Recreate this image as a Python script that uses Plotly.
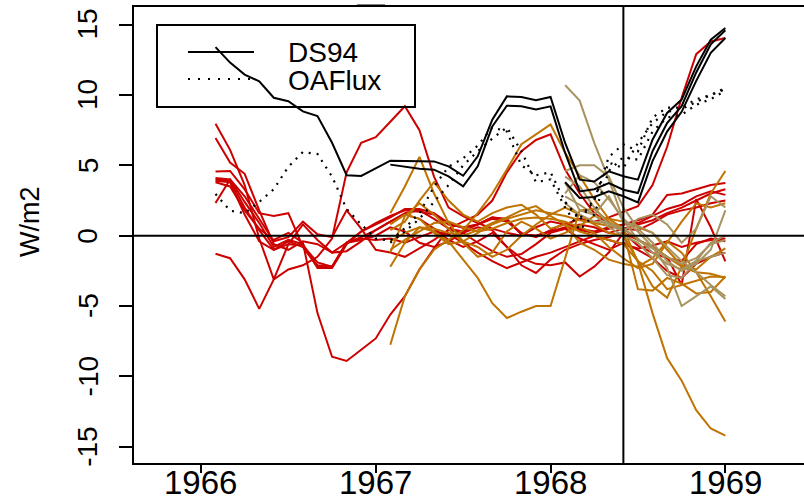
import plotly.graph_objects as go

# ---------------- data (monthly anomalies, W/m2) ----------------
# month index m: time = 1966 + m/12
red_start = 1      # Feb 1966 .. Jan 1969
orange_start = 13  # Feb 1967 .. Jan 1969
tan_start = 25     # Feb 1968 .. Jan 1969

ds94_a = [13.4, 12.3, 11.45, 10.97, 9.8, 9.55, 8.83, 8.5, 6.6, 4.3, 4.25, 4.8,
          5.33, 5.3, 5.3, 5.28, 4.93, 4.26, 5.64, 8.24, 9.9, 9.86, 9.62, 9.86,
          6.59, 3.98, 3.85, 4.57, 4.22, 3.98, 6.82, 8.72, 9.67, 12.03, 13.93, 14.76]
ds94_b = [5.05, 4.9, 4.75, 4.69, 4.22, 3.5, 4.93, 7.77, 9.24, 9.19, 8.96, 9.19,
          5.88, 3.15, 3.3, 3.74, 3.27, 3.03, 6.0, 8.0, 9.2, 11.6, 13.6, 14.6]
ds94_c = [3.8, 2.68, 2.75, 3.15, 2.8, 2.37, 5.3, 7.4, 8.8, 11.0, 13.0, 14.05]

oaflux_a = [2.96, 1.78, 1.6, 2.4, 3.3, 4.9, 5.95, 5.8, 4.2, 1.9, 0.8, -0.2,
            -0.35, 0.54, 1.6, 3.5, 4.9, 5.5, 6.4, 7.7, 7.4, 5.0, 4.3, 4.5,
            2.4, 1.1, 2.5, 5.6, 6.5, 6.0, 8.4, 9.1, 9.1, 9.7, 10.0, 10.5]
oaflux_b = [-0.5, 0.3, 1.2, 2.4, 3.6, 5.0, 6.0, 6.9, 7.7, 6.0, 3.8, 4.0,
            2.0, 0.4, 1.5, 4.6, 5.6, 5.4, 7.4, 8.4, 8.6, 9.3, 9.7, 10.3]
oaflux_c = [2.4, 1.2, 2.6, 5.2, 4.8, 6.6, 8.0, 8.8, 9.0, 9.5, 10.0, 10.4]

red_1 = [7.96, 6.1, 3.6, -0.2, -3.1, -0.6, 0.8, -0.3, -1.2, -1.1, -0.4, 0.4,
         1.0, 1.6, 1.8, 1.2, 0.5, 0.3, 0.8, 1.3, 1.1, 0.1, 0.0, 0.3,
         0.6, 0.4, 0.2, 0.5, 0.8, 0.9, 1.4, 1.9, 2.2, 2.8, 3.15, 2.9]
red_2 = [6.94, 5.2, 4.4, 1.8, -0.6, -1.0, -0.4, -0.6, -1.2, -0.5, 0.3, 0.9,
         1.4, 1.8, 1.7, 1.5, 0.8, 0.6, 0.8, 1.2, 1.0, 0.2, -0.1, 0.4,
         0.9, 0.5, 0.3, 0.6, 0.8, 1.1, 1.5, 2.9, 3.0, 3.3, 3.6, 3.74]
red_3 = [4.57, 4.6, 3.3, 1.6, 1.4, 1.6, -0.8, -2.2, -2.2, -0.5, -0.3, 0.0,
         0.6, 0.3, -0.5, -0.8, -0.4, 0.2, 0.6, 0.4, -0.8, -2.1, -2.65, -1.7,
         -1.0, -0.6, -0.3, -0.1, 0.2, -0.3, -0.8, -1.5, -3.5, 2.6, 0.6, -1.83]
red_4 = [4.1, 4.0, 2.4, 0.9, -0.8, -0.3, -0.6, -2.3, -2.3, -0.6, 0.3, 0.8,
         1.3, 1.9, 1.9, 1.6, 0.9, 0.55, 0.8, 1.3, 1.2, 0.1, 0.0, 0.3,
         0.5, 0.8, 0.6, 0.2, 0.5, 0.8, 1.1, 1.6, 2.0, 2.5, 3.0, 3.3]
red_5 = [4.0, 3.9, 2.0, 0.4, -1.0, -0.4, -0.8, -2.1, -2.2, -0.5, -0.1, 0.4,
         1.0, 1.5, 1.2, 0.5, -0.3, -0.8, -0.4, 0.2, -0.8, -1.6, -2.0, -2.1,
         -1.9, -2.9, -2.2, -1.2, 0.2, -0.7, -1.2, -1.6, -1.8, -0.6, -0.2, -0.4]
red_6 = [2.32, 4.0, 2.8, 1.2, -0.4, -0.1, 1.0, 0.1, -0.1, 1.8, 0.5, -1.0,
         -1.2, -1.5, -0.9, -0.3, 0.4, 0.2, -0.5, -1.1, -1.5, -1.3, -0.6, 0.2,
         0.5, -0.2, -0.6, -1.0, -0.5, -1.0, -1.6, -2.5, -3.0, -2.0, -1.5, -1.2]
red_7 = [-1.28, -1.6, -3.1, -5.2, -3.1, -2.4, -2.1, -1.5, -0.2, 4.5, 6.6, 7.0,
         8.1, 9.2, 7.5, 4.2, 2.0, 1.4, 0.9, 0.5, 0.2, 0.0, 0.6, 1.0,
         0.8, 1.2, 1.0, 1.3, 1.7, 2.1, 3.6, 6.3, 9.8, 12.9, 13.8, 14.05]
red_8 = [3.8, 3.5, 1.8, 0.5, -0.3, 0.2, -0.5, -5.5, -8.6, -8.9, -8.1, -7.3,
         -5.6, -4.3, -2.4, -0.9, 0.5, 1.0, 1.5, 2.5, 4.5, 6.0, 6.8, 7.2,
         4.7, 3.0, 1.6, 0.9, 0.5, 0.4, 0.9, 1.5, 1.8, 2.0, 2.3, 2.5]
red_9 = [3.9, 3.8, 1.5, -0.4, -1.0, -0.6, -0.7, -1.9, -2.2, -0.5, -0.2, -0.3,
         -0.2, -0.5, -0.1, 0.3, 0.1, -0.5, -1.2, -1.8, -2.3, -1.9, -1.5, -1.2,
         -0.8, -0.4, 0.0, -0.3, -0.6, -0.9, -0.7, -0.4, -0.8, -0.5, -0.3, -0.2]

orange_1 = [-7.75, -4.3, -2.4, -1.0, -0.3, 0.4, 1.6, 3.0, 4.7, 6.5, 7.2, 7.9,
            5.9, 4.2, 2.6, 1.2, 0.5, -0.3, -0.8, -1.5, -2.2, -2.6, -2.7, -3.0]
orange_2 = [1.6, 3.5, 5.6, 3.0, 0.9, -0.4, -0.8, -1.5, -1.0, 0.0, 0.8, 1.5,
            2.0, 1.5, 0.8, 0.2, 0.0, -1.8, -2.5, -3.8, -3.5, -3.2, -2.9, -2.94]
orange_3 = [-1.2, 1.4, 2.3, 1.5, 0.5, -0.5, -1.5, -1.2, 0.3, 1.0, 0.5, -0.2,
            0.2, 0.7, 1.4, 1.2, 1.0, 0.6, 0.2, -1.0, -2.1, -2.4, -1.5, -0.9]
orange_4 = [-2.2, -0.5, 0.6, 0.3, -0.4, -1.7, -3.0, -4.8, -5.85, -5.4, -5.0, -5.0,
            -1.6, 1.8, 1.9, 1.0, 0.3, -3.8, -3.9, -3.0, -3.4, -4.1, -4.0, -2.9]
orange_5 = [0.8, 1.5, 1.2, 0.2, -0.6, -0.4, 0.2, 0.8, 1.2, 1.5, 1.8, 1.6,
            1.4, 1.1, 0.9, 0.7, 0.5, -1.9, -5.5, -8.7, -10.3, -12.4, -13.7, -14.2]
orange_6 = [-0.4, 0.2, 0.6, 0.5, 0.2, 0.0, 0.4, 0.9, 1.3, 1.8, 2.1, 1.4,
            0.8, 0.3, 0.0, -0.3, -0.6, -1.8, -3.6, -4.4, -2.2, 0.5, 3.0, 4.6]
orange_7 = [0.4, 1.0, 2.5, 3.8, 2.5, 1.5, 1.0, 1.6, 2.0, 2.2, 1.5, 0.5,
            0.8, -0.5, -1.0, -1.7, -2.0, -2.2, -1.6, -0.4, -1.2, -2.6, -4.3, -6.1]
orange_8 = [-1.0, -0.3, 0.3, 0.9, 1.0, 0.6, 0.3, 0.5, 0.9, 1.2, 1.3, 1.2,
            1.0, 0.6, 0.2, -0.8, -1.6, -2.3, -2.0, -0.5, 1.0, 2.3, 2.0, 2.3]

tan_1 = [10.7, 9.6, 6.6, 4.0, 1.1, -0.3, -0.9, -1.5, -2.0, -1.6, -0.6, -0.3]
tan_2 = [4.6, 5.0, 5.0, 4.2, 2.0, 0.5, -0.5, -1.8, -2.5, -2.0, -1.0, 1.8]
tan_3 = [3.0, 4.3, 3.8, 2.6, 1.2, 0.3, -0.8, -2.3, -5.0, -4.3, -3.6, -4.5]
tan_4 = [2.3, 1.5, 1.0, 0.9, 0.5, -0.2, -1.2, -2.0, -2.4, -1.8, -1.5, -1.2]
tan_5 = [3.8, 1.8, 1.5, 2.8, 1.0, 0.7, 0.2, -0.8, -1.8, -2.6, -3.5, -4.3]
tan_6 = [4.2, 3.5, 2.0, 0.8, 0.3, 1.2, 1.5, 0.8, -0.5, 0.5, 2.8, 2.0]
tan_7 = [2.8, 2.2, 1.5, 0.6, 0.0, -0.5, -1.6, -2.8, -3.0, -1.8, -0.5, 0.0]

x_tick_vals = [1966, 1967, 1968, 1969]
x_tick_text = ["1966", "1967", "1968", "1969"]
y_tick_vals = [-15, -10, -5, 0, 5, 10, 15]
y_tick_text = ["-15", "-10", "-5", "0", "5", "10", "15"]
legend_labels = ["DS94", "OAFlux"]
y_title = "W/m2"
split_time = 1968 + 5 / 12

# ---------------- figure ----------------
W, H = 804, 498
L, R, T, B = 134, 0, 7, 35
PW, PH = W - L - R, H - T - B

RED = "#CD0000"
ORANGE = "#BF7300"
TAN = "#A8935F"
FONT = "Liberation Sans, Arial, Helvetica, sans-serif"


def times(start, n):
    return [1966 + (start + i) / 12 for i in range(n)]


fig = go.Figure()


def add_line(vals, start, color, width=2.0, dash="solid"):
    fig.add_trace(go.Scatter(x=times(start, len(vals)), y=vals, mode="lines",
                             line=dict(color=color, width=width, dash=dash),
                             showlegend=False, hoverinfo="skip"))


for s in [red_1, red_2, red_3, red_4, red_5, red_6, red_7, red_8, red_9]:
    add_line(s, red_start, RED)
for s in [orange_1, orange_2, orange_3, orange_4, orange_5, orange_6, orange_7, orange_8]:
    add_line(s, orange_start, ORANGE)
for s in [tan_1, tan_2, tan_3, tan_4, tan_5, tan_6, tan_7]:
    add_line(s, tan_start, TAN)

for s, st in [(oaflux_a, red_start), (oaflux_b, orange_start), (oaflux_c, tan_start)]:
    add_line(s, st, "black", 2.2, "2px,6px")
for s, st in [(ds94_a, red_start), (ds94_b, orange_start), (ds94_c, tan_start)]:
    add_line(s, st, "black", 2.0)


def px(xp):
    return (xp - L) / PW


def py(yp):
    return (H - B - yp) / PH


shapes = [
    # zero line and split line
    dict(type="line", xref="paper", yref="y", x0=0, x1=1, y0=0, y1=0,
         line=dict(color="black", width=2)),
    dict(type="line", xref="x", yref="paper", x0=split_time, x1=split_time, y0=0, y1=1,
         line=dict(color="black", width=2)),
    # legend box
    dict(type="rect", xref="paper", yref="paper", x0=px(157), x1=px(415), y0=py(25), y1=py(107),
         line=dict(color="black", width=2), fillcolor="rgba(0,0,0,0)"),
    dict(type="line", xref="paper", yref="paper", x0=px(188), x1=px(254), y0=py(52), y1=py(52),
         line=dict(color="black", width=2)),
    dict(type="line", xref="paper", yref="paper", x0=px(188), x1=px(254), y0=py(79), y1=py(79),
         line=dict(color="black", width=2.2, dash="2px,8px")),
    # remnant mark above frame
    dict(type="rect", xref="paper", yref="paper", x0=px(357), x1=px(385), y0=py(7), y1=py(4.5),
         line=dict(width=0), fillcolor="black"),
]

annotations = [
    dict(text=legend_labels[0], xref="paper", yref="paper", x=px(286), y=py(52),
         xanchor="left", yanchor="middle", showarrow=False,
         font=dict(family=FONT, size=28, color="black")),
    dict(text=legend_labels[1], xref="paper", yref="paper", x=px(286), y=py(80),
         xanchor="left", yanchor="middle", showarrow=False,
         font=dict(family=FONT, size=28, color="black")),
    dict(text=y_title, xref="paper", yref="paper", x=px(30), y=py(222),
         xanchor="center", yanchor="middle", showarrow=False, textangle=-90,
         font=dict(family=FONT, size=27, color="black")),
]
# tick labels placed at the axis tick values
for v, t in zip(x_tick_vals, x_tick_text):
    annotations.append(dict(text=t, xref="x", yref="paper", x=v, y=py(482),
                            xanchor="center", yanchor="middle", showarrow=False,
                            font=dict(family=FONT, size=33, color="black")))
for v, t in zip(y_tick_vals, y_tick_text):
    annotations.append(dict(text=t, xref="paper", yref="y", x=px(88), y=v,
                            xanchor="center", yanchor="middle", showarrow=False, textangle=-90,
                            font=dict(family=FONT, size=28, color="black")))

fig.update_layout(
    width=W, height=H,
    margin=dict(l=L, r=R, t=T, b=B, pad=0),
    paper_bgcolor="white", plot_bgcolor="white",
    showlegend=False,
    shapes=shapes, annotations=annotations,
    xaxis=dict(range=[1965.617, 1965.617 + PW / 174.8], tickvals=x_tick_vals,
               showticklabels=False,
               ticks="outside", ticklen=8, tickwidth=1.5, tickcolor="black",
               showline=True, linewidth=2, linecolor="black", mirror=True,
               showgrid=False, zeroline=False, automargin=False),
    yaxis=dict(range=[-16.15, 16.25], tickvals=y_tick_vals,
               showticklabels=False,
               ticks="outside", ticklen=13, tickwidth=1.5, tickcolor="black",
               showline=True, linewidth=2, linecolor="black", mirror=False,
               showgrid=False, zeroline=False, automargin=False),
)

fig.write_html("out.html", config={"displayModeBar": False},
               post_script="document.body.style.margin='0';")
